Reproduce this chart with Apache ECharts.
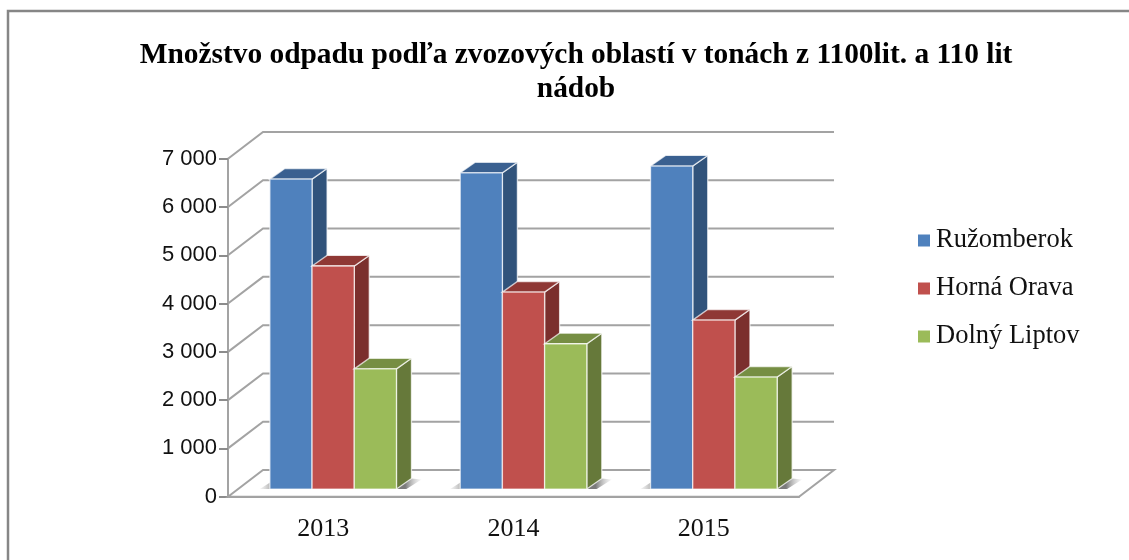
<!DOCTYPE html>
<html>
<head>
<meta charset="utf-8">
<style>
  html, body { margin: 0; padding: 0; background: #fff; }
  #chart { width: 1129px; height: 560px; }
</style>
<script src="https://cdn.jsdelivr.net/npm/echarts@6/dist/echarts.min.js"></script>
</head>
<body>
<div id="chart"></div>
<script>
const years = ['2013', '2014', '2015'];
const ruzomberok = [6420, 6550, 6690];
const hornaOrava = [4620, 4080, 3500];
const dolnyLiptov = [2490, 3010, 2320];
const yTicks = [0, 1000, 2000, 3000, 4000, 5000, 6000, 7000];

// fake 3D: how far back the wall sits, and the depth of a column
const WALL_DX = 35, WALL_DY = -26.7;
const BAR_DX = 15, BAR_DY = -10.6;
const BAR_OFF_X = 10, BAR_OFF_Y = -7.6;
const BAR_W = 42.2;
const LINE = '#a3a3a3';

const chart = echarts.init(document.getElementById('chart'));

// back wall lines + floor
function renderWall(params, api) {
  const v = api.value(0);
  const left = api.coord([0, v]);
  const band = api.size([1, 0])[0];
  const x0 = left[0] - band / 2;
  const x1 = x0 + band * years.length;
  const y = left[1];
  const style = { stroke: LINE, lineWidth: 2, fill: null };
  const children = [];
  if (v === 0) {
    children.push({
      type: 'polygon',
      shape: { points: [[x0, y], [x0 + WALL_DX, y + WALL_DY], [x1 + WALL_DX, y + WALL_DY], [x1, y]] },
      style: { fill: '#fff', stroke: LINE, lineWidth: 2 }
    });
  } else {
    children.push({
      type: 'polyline',
      shape: { points: [[x0, y], [x0 + WALL_DX, y + WALL_DY], [x1 + WALL_DX, y + WALL_DY]] },
      style
    });
  }
  return { type: 'group', children };
}

function renderBar(slot, front, side, top) {
  return function (params, api) {
    const cat = api.value(0);
    const c = api.coord([cat, api.value(1)]);
    const base = api.coord([cat, 0]);
    const x0 = c[0] + BAR_OFF_X + (slot - 1.5) * BAR_W;
    const x1 = x0 + BAR_W;
    const yTop = c[1] + BAR_OFF_Y;
    const yBase = base[1] + BAR_OFF_Y;
    const edge = { stroke: 'rgba(255,255,255,0.7)', lineWidth: 1.3 };
    const children = [
      {
        type: 'polygon',
        shape: { points: [[x1, yTop], [x1 + BAR_DX, yTop + BAR_DY], [x1 + BAR_DX, yBase + BAR_DY], [x1, yBase]] },
        style: { fill: side, ...edge }
      },
      {
        type: 'polygon',
        shape: { points: [[x0, yTop], [x0 + BAR_DX, yTop + BAR_DY], [x1 + BAR_DX, yTop + BAR_DY], [x1, yTop]] },
        style: { fill: top, ...edge }
      },
      {
        type: 'rect',
        shape: { x: x0, y: yTop, width: BAR_W, height: yBase - yTop },
        style: { fill: front, ...edge }
      }
    ];
    return { type: 'group', children };
  };
}

// soft shadow the columns drop on the floor
function renderShadow(params, api) {
  const base = api.coord([api.value(0), 0]);
  const x0 = base[0] + BAR_OFF_X - 1.5 * BAR_W;
  const x1 = x0 + 3 * BAR_W;
  const y = base[1] + BAR_OFF_Y;
  return {
    type: 'group',
    children: [
      {
        type: 'polygon',
        shape: { points: [[x0 - 10, y], [x0 + 4, y - 9], [x0 + 4, y]] },
        style: { fill: new echarts.graphic.LinearGradient(1, 0, 0, 0, [
          { offset: 0, color: 'rgba(120,120,120,0.8)' }, { offset: 1, color: 'rgba(215,215,215,0.3)' }
        ]) }
      },
      {
        type: 'polygon',
        shape: { points: [[x1, y], [x1 + BAR_DX, y + BAR_DY], [x1 + 25, y + BAR_DY + 1], [x1 + 10, y]] },
        style: { fill: new echarts.graphic.LinearGradient(0, 0, 1, 0, [
          { offset: 0.35, color: 'rgba(100,100,100,0.85)' }, { offset: 1, color: 'rgba(220,220,220,0.25)' }
        ]) }
      }
    ]
  };
}

function barSeries(name, values, slot, front, side, top) {
  return {
    type: 'custom',
    name,
    itemStyle: { color: front },
    renderItem: renderBar(slot, front, side, top),
    encode: { x: 0, y: 1 },
    data: values.map((v, i) => [i, v]),
    z: 5 + slot,
    clip: false
  };
}

chart.setOption({
  animation: false,
  backgroundColor: '#fff',
  title: {
    text: 'Množstvo odpadu podľa zvozových oblastí v tonách z 1100lit. a 110 lit\nnádob',
    left: 571,
    top: 33,
    textAlign: 'center',
    textStyle: {
      fontFamily: 'Liberation Serif',
      fontWeight: 'bold',
      fontSize: 29.4,
      lineHeight: 34,
      color: '#000'
    }
  },
  legend: {
    orient: 'vertical',
    left: 913,
    top: 222,
    itemWidth: 12,
    itemHeight: 12,
    itemGap: 21,
    icon: 'rect',
    data: ['Ružomberok', 'Horná Orava', 'Dolný Liptov'],
    textStyle: { fontFamily: 'Liberation Serif', fontSize: 26.5, color: '#111', padding: [0, 0, 0, 1] }
  },
  grid: { left: 228, right: 330, top: 158.7, bottom: 63.3 },
  xAxis: {
    type: 'category',
    data: years,
    axisLine: { lineStyle: { color: LINE, width: 2 } },
    axisTick: { length: 7, lineStyle: { color: '#8c8c8c', width: 2 } },
    axisLabel: { fontFamily: 'Liberation Serif', fontSize: 26, color: '#111', margin: 19 }
  },
  yAxis: {
    type: 'value',
    min: 0,
    max: 7000,
    interval: 1000,
    axisLine: { show: true, lineStyle: { color: LINE, width: 2 } },
    axisTick: { show: true, length: 9, lineStyle: { color: '#8c8c8c', width: 2 } },
    splitLine: { show: false },
    axisLabel: {
      fontFamily: 'Liberation Sans',
      fontSize: 22,
      color: '#111',
      margin: 11,
      padding: [6, 0, 0, 0],
      formatter: (v) => String(v).replace(/\B(?=(\d{3})+$)/g, ' ')
    }
  },
  series: [
    {
      type: 'custom',
      silent: true,
      renderItem: renderWall,
      encode: { y: 0 },
      data: yTicks.map((v) => [v]),
      z: 1,
      clip: false
    },
    {
      type: 'custom',
      silent: true,
      renderItem: renderShadow,
      encode: { x: 0 },
      data: years.map((y, i) => [i]),
      z: 2,
      clip: false
    },
    barSeries('Ružomberok', ruzomberok, 0, '#4f81bd', '#31537b', '#3a6090'),
    barSeries('Horná Orava', hornaOrava, 1, '#c0504d', '#7b2f2d', '#8f3835'),
    barSeries('Dolný Liptov', dolnyLiptov, 2, '#9bbb59', '#66793a', '#768e43')
  ],
  graphic: [
    { type: 'polyline', shape: { points: [[8, 560], [8, 11], [1129, 11]] }, style: { stroke: '#868686', lineWidth: 2.5, fill: null }, z: 0 }
  ]
});
</script>
</body>
</html>
